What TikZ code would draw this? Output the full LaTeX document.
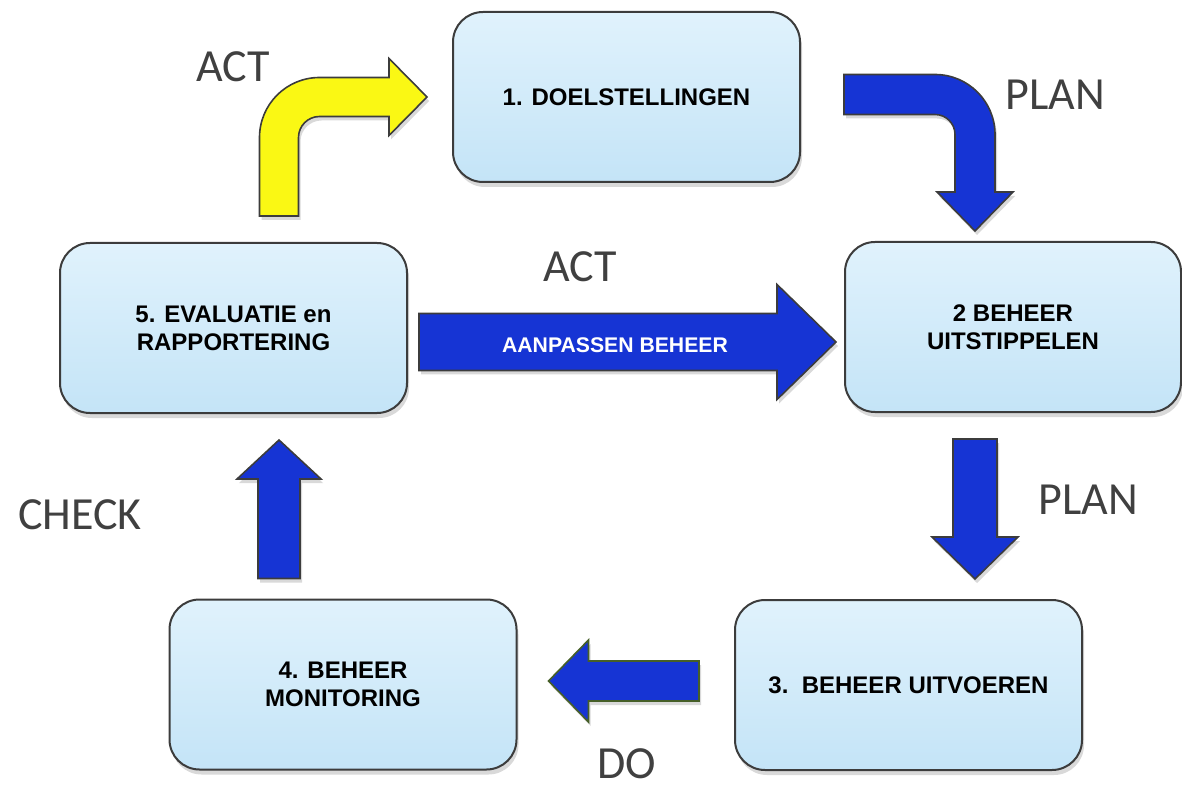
\documentclass[tikz,border=0pt]{standalone}
\usepackage{fontspec}
\setmainfont{Liberation Sans}
\newfontfamily\phasefont{Carlito}
\usepackage{xcolor}
\usetikzlibrary{calc,shadows}

\definecolor{boxfill}{RGB}{196,228,247}
\definecolor{boxtop}{RGB}{224,242,252}
\definecolor{boxline}{RGB}{60,60,60}
\definecolor{cycleblue}{RGB}{22,52,212}
\definecolor{actyellow}{RGB}{250,248,20}
\definecolor{phasegray}{RGB}{64,64,64}
\definecolor{dogreen}{RGB}{70,95,40}

\tikzset{
	pdcabox/.style={rectangle, rounded corners=15pt, draw=boxline, line width=1pt,
		top color=boxtop, bottom color=boxfill, minimum width=173.5pt, minimum height=85pt,
		align=center, font=\fontsize{12}{14}\selectfont\bfseries,
		drop shadow={shadow xshift=1pt, shadow yshift=-2.5pt, opacity=0.3}},
	bluearrow/.style={fill=cycleblue, draw=boxline, line width=0.8pt,
		drop shadow={shadow xshift=1pt, shadow yshift=-2pt, opacity=0.3}},
	yellowarrow/.style={bluearrow, fill=actyellow},
	phase/.style={text=phasegray, inner sep=0pt, font=\phasefont\fontsize{23}{27}\selectfont}
}

% tail, tip, half shaft, half head, head length
\newcommand{\blockarrow}[6][bluearrow]{%
	\draw[#1] ($(#2)!#4!90:(#3)$) -- ($(#3)!#6!(#2)!#4!-90:(#2)$) -- ($(#3)!#6!(#2)!#5!-90:(#2)$)
		-- (#3) -- ($(#3)!#6!(#2)!#5!90:(#2)$) -- ($(#3)!#6!(#2)!#4!90:(#2)$) -- ($(#2)!#4!-90:(#3)$) -- cycle;}

\begin{document}
\begin{tikzpicture}[x=0.5pt, y=0.5pt]
	\useasboundingbox (0,0) rectangle (1182,788);

	% boxes
	\node[pdcabox] (doel) at (626.5,691) {1. DOELSTELLINGEN};
	\node[pdcabox, minimum width=168pt] (uitstip) at (1013,461) {2 BEHEER\\UITSTIPPELEN};
	\node[pdcabox] (uitvoer) at (908.5,103) {3.\ \ BEHEER UITVOEREN};
	\node[pdcabox] (monitor) at (343,103.5) {4. BEHEER\\MONITORING};
	\node[pdcabox] (evaluatie) at (233.5,460) {5. EVALUATIE en\\RAPPORTERING};

	% arrow ends
	\coordinate (act0) at ($(evaluatie.north)+(45.5,26)$);
	\coordinate (act1) at ($(doel.west)+(-25,0)$);
	\coordinate (actk) at (act0 |- act1);
	\coordinate (plan0) at ($(doel.east)+(43,2.5)$);
	\coordinate (plan1) at ($(uitstip.north)+(-38,10)$);
	\coordinate (plank) at (plan1 |- plan0);
	\coordinate (aan0) at ($(evaluatie.east)+(11,-14)$);
	\coordinate (aan1) at ($(uitstip.west)+(-8,-15)$);
	\coordinate (plan2) at ($(uitstip.south)+(-38,-26)$);
	\coordinate (plan3) at ($(uitvoer.north)+(66.5,20)$);
	\coordinate (do0) at ($(uitvoer.west)+(-35,4)$);
	\coordinate (do1) at ($(monitor.east)+(31,3.5)$);
	\coordinate (check0) at ($(monitor.north)+(-64,20)$);
	\coordinate (check1) at ($(evaluatie.south)+(45.5,-26)$);

	% bent arrows
	\draw[yellowarrow] ($(act0)+(-19.5,0)$) -- ($(actk)+(-19.5,-40.5)$) arc[start angle=180, end angle=90, radius=30pt]
		-- ($(act1)+(-38,19.5)$) -- ($(act1)+(-38,38.5)$) -- (act1) -- ($(act1)+(-38,-38.5)$) -- ($(act1)+(-38,-19.5)$)
		-- ($(actk)+(40.5,-19.5)$) arc[start angle=90, end angle=180, radius=10.5pt] -- ($(act0)+(19.5,0)$) -- cycle;
	\draw[bluearrow] ($(plan0)+(0,20)$) -- ($(plank)+(-40,20)$) arc[start angle=90, end angle=0, radius=30pt]
		-- ($(plan1)+(20,39)$) -- ($(plan1)+(38,39)$) -- (plan1) -- ($(plan1)+(-38,39)$) -- ($(plan1)+(-20,39)$)
		-- ($(plank)+(-20,-40)$) arc[start angle=0, end angle=90, radius=10pt] -- ($(plan0)+(0,-20)$) -- cycle;

	% straight arrows
	\blockarrow{aan0}{aan1}{14.25pt}{28.75pt}{29.5pt}
	\blockarrow{plan2}{plan3}{11pt}{21.5pt}{21pt}
	\blockarrow[bluearrow, draw=dogreen]{do0}{do1}{10pt}{20.5pt}{20pt}
	\blockarrow{check0}{check1}{10.5pt}{21pt}{19.5pt}
	\node[text=white, font=\fontsize{10.6}{12}\selectfont\bfseries] (aantxt) at ($(aan0)!0.47!(aan1)+(0,-3)$) {AANPASSEN BEHEER};

	% phase labels
	\node[phase] (lblact) at (233,721) {ACT};
	\node[phase] (lblplan) at (1055,693) {PLAN};
	\node[phase] (lblact2) at (580,521) {ACT};
	\node[phase] (lblplan2) at (1088,288) {PLAN};
	\node[phase] (lblcheck) at (80,273) {CHECK};
	\node[phase] (lbldo) at (627,24) {DO};
\end{tikzpicture}
\end{document}
